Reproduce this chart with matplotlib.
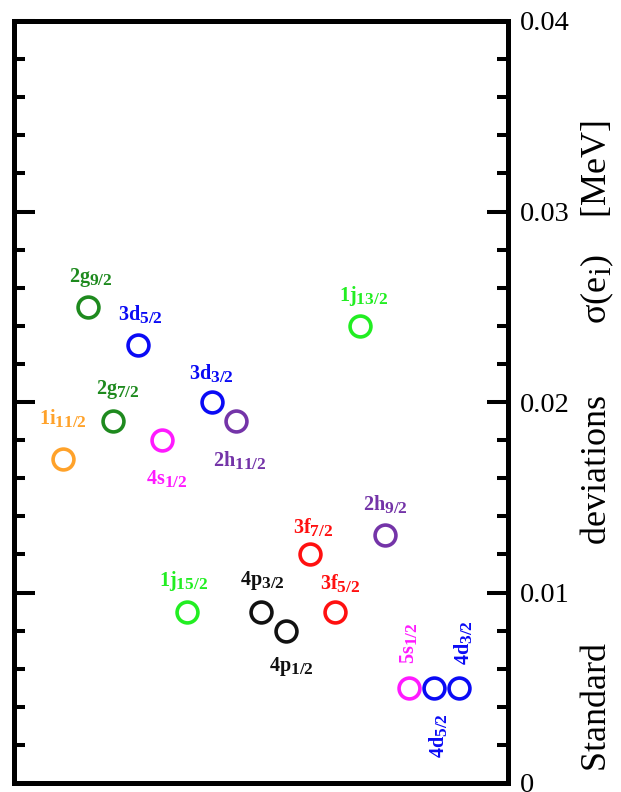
import matplotlib
matplotlib.use("Agg")
import matplotlib.pyplot as plt
import matplotlib._mathtext as mathtext_internal
from matplotlib.ticker import MultipleLocator

plt.rcParams['font.family'] = 'Liberation Serif'
plt.rcParams['mathtext.fontset'] = 'custom'
plt.rcParams['mathtext.rm'] = 'Liberation Serif'
plt.rcParams['mathtext.it'] = 'Liberation Serif:italic'
plt.rcParams['mathtext.bf'] = 'Liberation Serif:bold'
# subscripts in the original are almost full size
mathtext_internal.SHRINK_FACTOR = 0.86

# ---- data ----
orbitals = ['1i', '2g', '2g', '3d', '4s', '1j', '3d', '2h', '4p',
            '4p', '3f', '3f', '1j', '2h', '5s', '4d', '4d']
j_values = ['11/2', '9/2', '7/2', '5/2', '1/2', '15/2', '3/2', '11/2', '3/2',
            '1/2', '7/2', '5/2', '13/2', '9/2', '1/2', '5/2', '3/2']
sigma = [0.017, 0.025, 0.019, 0.023, 0.018, 0.009, 0.020, 0.019, 0.009,
         0.008, 0.012, 0.009, 0.024, 0.013, 0.005, 0.005, 0.005]
ytick_vals = [0.0, 0.01, 0.02, 0.03, 0.04]
ytick_labels = ['0', '0.01', '0.02', '0.03', '0.04']

# ---- styling ----
shell_colors = {'1i': '#FFA22A', '2g': '#1E8A1E', '3d': '#0A0AF5', '4s': '#FF1AFF',
                '1j': '#22EE22', '2h': '#7434A8', '4p': '#111111', '3f': '#FF1010',
                '5s': '#FF1AFF', '4d': '#0A0AF5'}
# label offsets in pixels (dx, dy with y downward), and rotation
label_offsets = [(0, -41), (3, -29), (5, -32), (3, -31), (5, 38), (-3, -31),
                 (0, -29), (3, 39), (1, -31), (6, 36), (3, -27), (5, -29),
                 (4, -30), (1, -31), (-1, -45), (4, 48), (4, -45)]
label_rot = [0] * 14 + [90, 90, 90]

fig = plt.figure(figsize=(6.21, 7.92), dpi=100)
ax = fig.add_axes([14 / 621, 9 / 792, 494 / 621, 762 / 792])

xpos = list(range(1, len(sigma) + 1))
for x, y, orb, j, (dx, dy), rot in zip(xpos, sigma, orbitals, j_values,
                                        label_offsets, label_rot):
    c = shell_colors[orb]
    ax.plot(x, y, 'o', ms=15, mfc='none', mec=c, mew=2.6)
    ax.annotate(r'$\mathbf{%s}_{\mathbf{%s}}$' % (orb, j), (x, y),
                xytext=(dx * 0.72, -dy * 0.72), textcoords='offset points',
                ha='center', va='center', color=c, fontsize=14.5, rotation=rot)

ax.set_xlim(-1, 19)
ax.set_ylim(0, 0.04)
ax.set_xticks([])
ax.set_yticks(ytick_vals)
ax.set_yticklabels(ytick_labels)
ax.yaxis.set_minor_locator(MultipleLocator(0.002))
ax.tick_params(axis='y', which='both', direction='in', left=True, right=True,
               labelleft=False, labelright=True, width=2.9, labelsize=20.5,
               pad=8.5)
ax.tick_params(axis='y', which='major', length=15)
ax.tick_params(axis='y', which='minor', length=8)
for sp in ax.spines.values():
    sp.set_linewidth(3.6)

ylabel = ('Standard' + ' ' * 11 + 'deviations' + ' ' * 8
          + 'σ(e$_\\mathrm{i}$)' + ' ' * 4 + '[MeV]')
ax.text(1.18, 0.442, ylabel, rotation=90, ha='center', va='center',
        transform=ax.transAxes, fontsize=26)

fig.savefig('out.png', dpi=100)
